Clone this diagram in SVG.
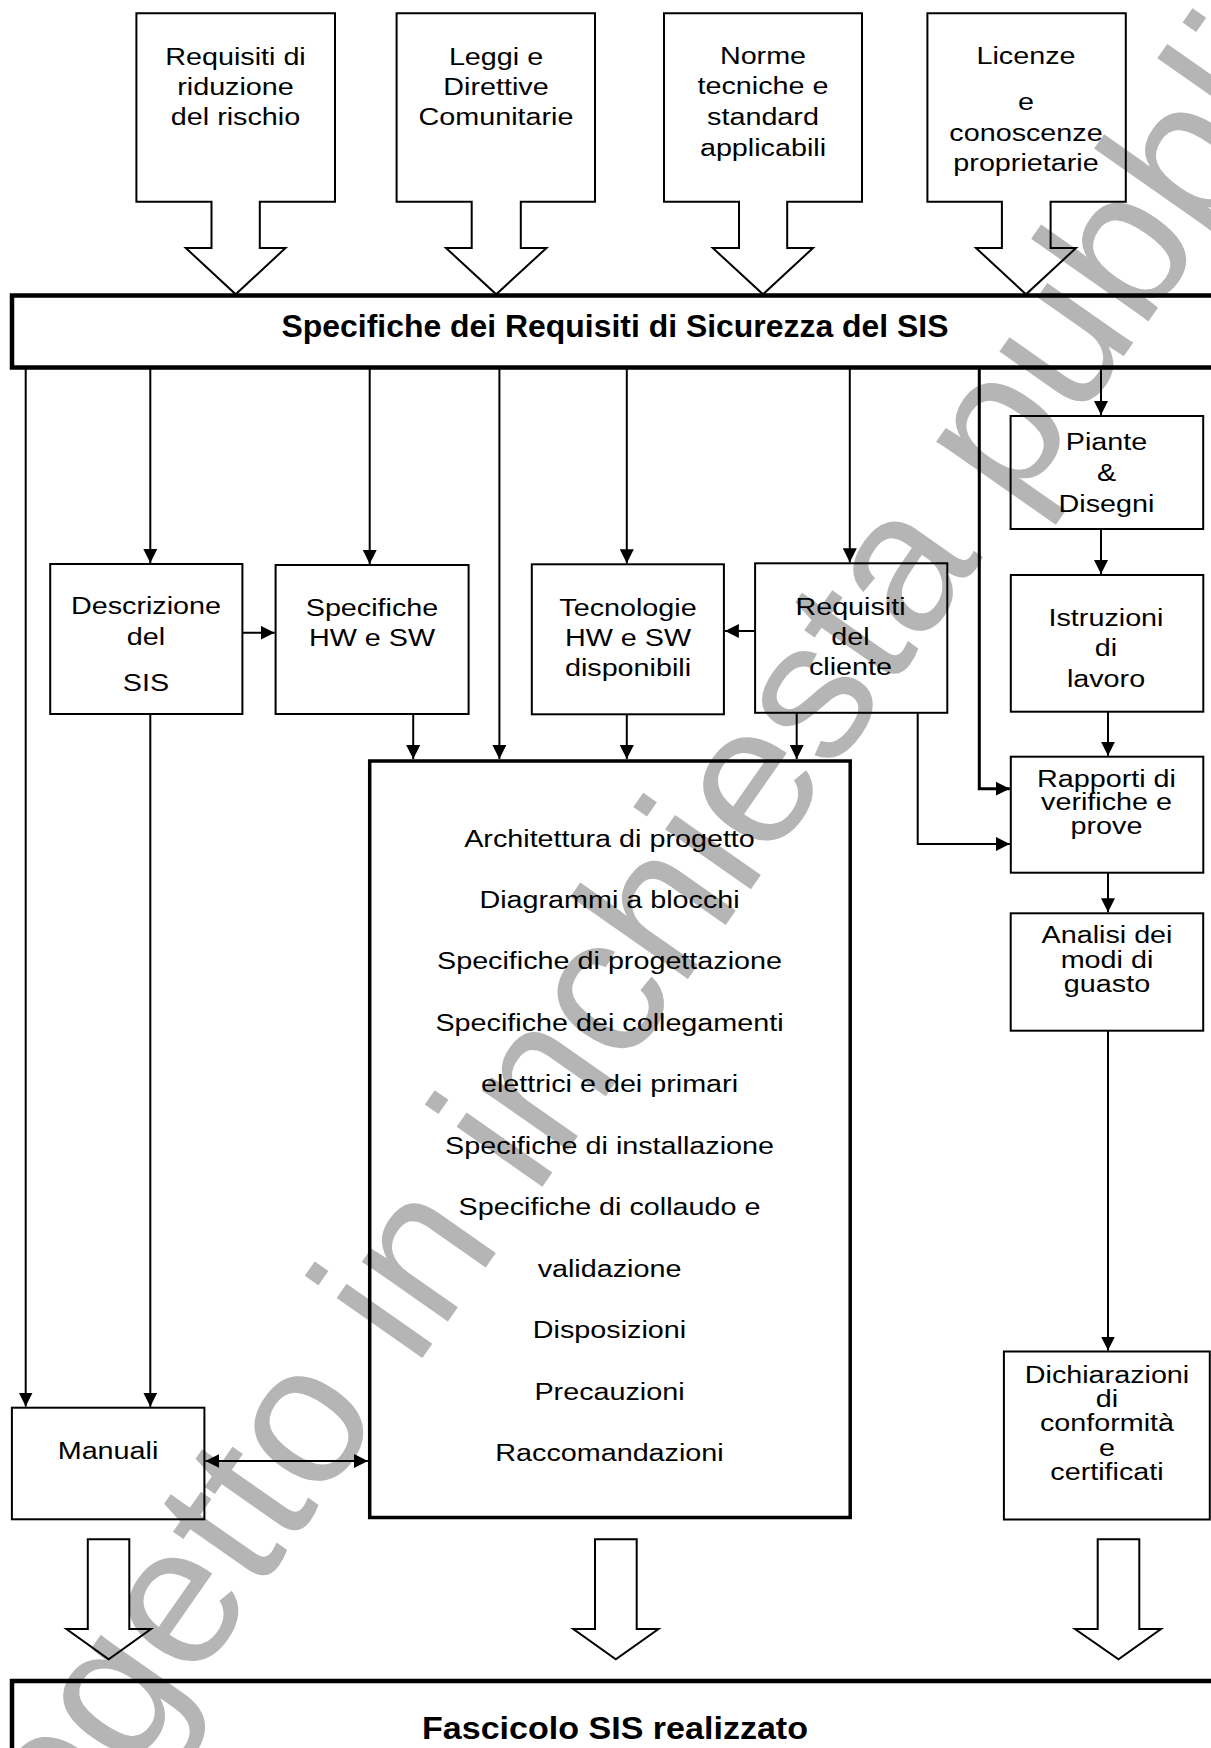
<svg xmlns="http://www.w3.org/2000/svg" width="1211" height="1748" viewBox="0 0 1211 1748">
  <style>
    .t { font-family: "Liberation Sans", Arial, sans-serif; font-size: 23px; text-anchor: middle; fill: #000; }
    .tb { font-family: "Liberation Sans", Arial, sans-serif; font-size: 32px; font-weight: bold; text-anchor: middle; fill: #000; }
    .wm { font-family: "Liberation Sans", Arial, sans-serif; font-size: 198px; fill: #b5b5b5; }
    .box { fill: none; stroke: #000; stroke-width: 2; }
    .bar { fill: none; stroke: #000; stroke-width: 4.5; }
    .big { fill: none; stroke: #000; stroke-width: 3.5; }
    .blk { fill: none; stroke: #000; stroke-width: 2; stroke-linejoin: miter; }
    .c { fill: none; stroke: #000; stroke-width: 2; marker-end: url(#ah); }
    .cw { fill: none; stroke: #000; stroke-width: 3; marker-end: url(#ah); }
  </style>
  <defs>
    <marker id="ah" markerUnits="userSpaceOnUse" markerWidth="14" markerHeight="14" refX="14" refY="7" orient="auto-start-reverse">
      <path d="M0,0 L14,7 L0,14 Z" fill="#000"/>
    </marker>
  </defs>

  <rect width="1211" height="1748" fill="#fff"/>

  <!-- watermark -->
  <text class="wm" x="-46" y="2027" transform="rotate(-55 -46 2027)">Progetto in inchiesta pubblica</text>

  <!-- input block arrows (labels are drawn in a wide face: scale 1.25 horizontally) -->
  <g id="in-rischio">
    <path class="blk" d="M136.4,13.3 H335 V201.7 H259.8 V248 H285.5 L235.7,294.3 L185.8,248 H211.5 V201.7 H136.4 Z"/>
    <text class="t" transform="translate(235.5 65) scale(1.25 1)">Requisiti di</text>
    <text class="t" transform="translate(235.5 95) scale(1.25 1)">riduzione</text>
    <text class="t" transform="translate(235.5 125) scale(1.25 1)">del rischio</text>
  </g>
  <g id="in-leggi">
    <path class="blk" d="M396.6,13.3 H595 V201.7 H520.8 V248 H546.5 L496.2,294.3 L446,248 H471.7 V201.7 H396.6 Z"/>
    <text class="t" transform="translate(496 65) scale(1.25 1)">Leggi e</text>
    <text class="t" transform="translate(496 95) scale(1.25 1)">Direttive</text>
    <text class="t" transform="translate(496 125) scale(1.25 1)">Comunitarie</text>
  </g>
  <g id="in-norme">
    <path class="blk" d="M664,13.3 H862 V201.7 H787.2 V248 H813 L763,294.3 L712.8,248 H739 V201.7 H664 Z"/>
    <text class="t" transform="translate(763 64) scale(1.25 1)">Norme</text>
    <text class="t" transform="translate(763 94) scale(1.25 1)">tecniche e</text>
    <text class="t" transform="translate(763 125) scale(1.25 1)">standard</text>
    <text class="t" transform="translate(763 156) scale(1.25 1)">applicabili</text>
  </g>
  <g id="in-licenze">
    <path class="blk" d="M927.4,13.3 H1125.8 V201.7 H1050.6 V248 H1076 L1026,294.3 L976,248 H1001.9 V201.7 H927.4 Z"/>
    <text class="t" transform="translate(1026 64) scale(1.25 1)">Licenze</text>
    <text class="t" transform="translate(1026 110) scale(1.25 1)">e</text>
    <text class="t" transform="translate(1026 140.5) scale(1.25 1)">conoscenze</text>
    <text class="t" transform="translate(1026 171) scale(1.25 1)">proprietarie</text>
  </g>

  <!-- requirements bar -->
  <g id="srs">
    <rect class="bar" x="12" y="295.5" width="1215" height="72"/>
    <text class="tb" x="615" y="337" textLength="667" lengthAdjust="spacingAndGlyphs">Specifiche dei Requisiti di Sicurezza del SIS</text>
  </g>

  <g id="descrizione">
    <rect class="box" x="50.2" y="564" width="192.2" height="150"/>
    <text class="t" transform="translate(146 614) scale(1.25 1)">Descrizione</text>
    <text class="t" transform="translate(146 645) scale(1.25 1)">del</text>
    <text class="t" transform="translate(146 691) scale(1.25 1)">SIS</text>
  </g>
  <g id="spec-hwsw">
    <rect class="box" x="275.6" y="565" width="193" height="149"/>
    <text class="t" transform="translate(372 616) scale(1.25 1)">Specifiche</text>
    <text class="t" transform="translate(372 646) scale(1.25 1)">HW e SW</text>
  </g>
  <g id="tecnologie">
    <rect class="box" x="531.8" y="564.3" width="192.1" height="150"/>
    <text class="t" transform="translate(628 616) scale(1.25 1)">Tecnologie</text>
    <text class="t" transform="translate(628 646) scale(1.25 1)">HW e SW</text>
    <text class="t" transform="translate(628 676) scale(1.25 1)">disponibili</text>
  </g>
  <g id="req-cliente">
    <rect class="box" x="755.1" y="563.3" width="192.2" height="149.5"/>
    <text class="t" transform="translate(850.5 615) scale(1.25 1)">Requisiti</text>
    <text class="t" transform="translate(850.5 645) scale(1.25 1)">del</text>
    <text class="t" transform="translate(850.5 675) scale(1.25 1)">cliente</text>
  </g>
  <g id="piante">
    <rect class="box" x="1010.6" y="416" width="192.6" height="113"/>
    <text class="t" transform="translate(1106.5 450) scale(1.25 1)">Piante</text>
    <text class="t" transform="translate(1106.5 481) scale(1.25 1)">&amp;</text>
    <text class="t" transform="translate(1106.5 512) scale(1.25 1)">Disegni</text>
  </g>
  <g id="istruzioni">
    <rect class="box" x="1010.8" y="575" width="192.5" height="136.7"/>
    <text class="t" transform="translate(1106 626) scale(1.25 1)">Istruzioni</text>
    <text class="t" transform="translate(1106 656) scale(1.25 1)">di</text>
    <text class="t" transform="translate(1106 687) scale(1.25 1)">lavoro</text>
  </g>
  <g id="rapporti">
    <rect class="box" x="1010.8" y="756.7" width="192.5" height="116"/>
    <text class="t" transform="translate(1106.5 787) scale(1.25 1)">Rapporti di</text>
    <text class="t" transform="translate(1106.5 810) scale(1.25 1)">verifiche e</text>
    <text class="t" transform="translate(1106.5 834) scale(1.25 1)">prove</text>
  </g>
  <g id="analisi">
    <rect class="box" x="1010.7" y="913.3" width="192.5" height="117.4"/>
    <text class="t" transform="translate(1107 942.5) scale(1.25 1)">Analisi dei</text>
    <text class="t" transform="translate(1107 967.5) scale(1.25 1)">modi di</text>
    <text class="t" transform="translate(1107 991.5) scale(1.25 1)">guasto</text>
  </g>
  <g id="dichiarazioni">
    <rect class="box" x="1003.9" y="1351.5" width="205.9" height="168"/>
    <text class="t" transform="translate(1107 1383) scale(1.25 1)">Dichiarazioni</text>
    <text class="t" transform="translate(1107 1407) scale(1.25 1)">di</text>
    <text class="t" transform="translate(1107 1431) scale(1.25 1)">conformità</text>
    <text class="t" transform="translate(1107 1456) scale(1.25 1)">e</text>
    <text class="t" transform="translate(1107 1480) scale(1.25 1)">certificati</text>
  </g>
  <g id="manuali">
    <rect class="box" x="11.9" y="1407.7" width="192.5" height="111.6"/>
    <text class="t" transform="translate(108 1459) scale(1.25 1)">Manuali</text>
  </g>
  <g id="progetto">
    <rect class="big" x="369.7" y="761" width="480.5" height="756.5"/>
    <text class="t" transform="translate(609.5 846.5) scale(1.25 1)">Architettura di progetto</text>
    <text class="t" transform="translate(609.5 908) scale(1.25 1)">Diagrammi a blocchi</text>
    <text class="t" transform="translate(609.5 969.4) scale(1.25 1)">Specifiche di progettazione</text>
    <text class="t" transform="translate(609.5 1030.8) scale(1.25 1)">Specifiche dei collegamenti</text>
    <text class="t" transform="translate(609.5 1092.3) scale(1.25 1)">elettrici e dei primari</text>
    <text class="t" transform="translate(609.5 1153.7) scale(1.25 1)">Specifiche di installazione</text>
    <text class="t" transform="translate(609.5 1215.2) scale(1.25 1)">Specifiche di collaudo e</text>
    <text class="t" transform="translate(609.5 1276.6) scale(1.25 1)">validazione</text>
    <text class="t" transform="translate(609.5 1338.1) scale(1.25 1)">Disposizioni</text>
    <text class="t" transform="translate(609.5 1399.5) scale(1.25 1)">Precauzioni</text>
    <text class="t" transform="translate(609.5 1461) scale(1.25 1)">Raccomandazioni</text>
  </g>

  <!-- output block arrows -->
  <g id="out-manuali">
    <path class="blk" d="M87.8,1539.3 H129.3 V1629 H151 L108.7,1659.3 L66.4,1629 H87.8 Z"/>
  </g>
  <g id="out-progetto">
    <path class="blk" d="M595,1539.3 H636.7 V1629 H658.5 L615.8,1659.3 L573.3,1629 H595 Z"/>
  </g>
  <g id="out-dichiarazioni">
    <path class="blk" d="M1097.7,1539.3 H1139.3 V1629 H1161 L1118.5,1659.3 L1075,1629 H1097.7 Z"/>
  </g>

  <g id="fascicolo">
    <rect class="bar" x="12" y="1681" width="1215" height="100"/>
    <text class="tb" x="615" y="1739" textLength="386" lengthAdjust="spacingAndGlyphs">Fascicolo SIS realizzato</text>
  </g>

  <!-- connectors -->
  <g id="connectors">
    <path class="c" d="M25.7,368 V1406.5"/>
    <path class="c" d="M150.3,368 V563"/>
    <path class="c" d="M369.7,368 V564"/>
    <path class="c" d="M499.4,368 V759"/>
    <path class="c" d="M626.8,368 V563.3"/>
    <path class="c" d="M849.8,368 V562.3"/>
    <path class="cw" d="M979.3,368 V788.7 H1009.8"/>
    <path class="c" d="M1101,368 V415"/>
    <path class="c" d="M242.4,632.7 H274.6"/>
    <path class="c" d="M755.1,631 H724.9"/>
    <path class="c" d="M413.2,714 V759"/>
    <path class="c" d="M626.8,714.3 V759"/>
    <path class="c" d="M796.7,713 V759"/>
    <path class="c" d="M917.7,713 V844 H1009.8"/>
    <path class="c" d="M1101,529 V574"/>
    <path class="c" d="M1108,711.7 V755.7"/>
    <path class="c" d="M1108,872.7 V912.3"/>
    <path class="c" d="M1108,1030.7 V1350.5"/>
    <path class="c" d="M150.3,714 V1406.7"/>
    <path class="c" d="M205.4,1461 H367.9" marker-start="url(#ah)"/>
  </g>
</svg>
